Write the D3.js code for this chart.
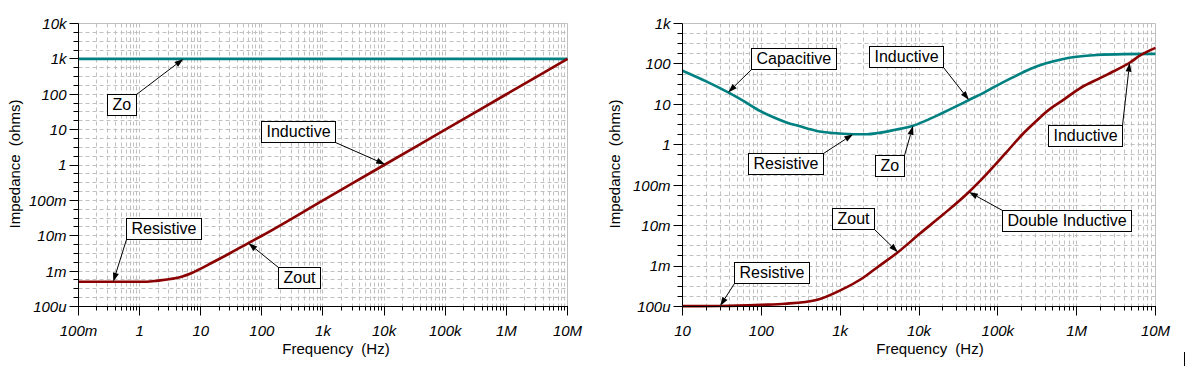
<!DOCTYPE html>
<html><head><meta charset="utf-8">
<script src="https://cdn.jsdelivr.net/npm/d3@7"></script>
<style>
body{margin:0;background:#fff}
svg{display:block}
text{font-family:"Liberation Sans",Arial,sans-serif;fill:#000}
</style>
</head><body>
<svg id="c" width="1186" height="366"></svg>
<script>
// ---------- DATA ----------
// Left chart
const leftXTickValues = [0.1, 1, 10, 100, 1e3, 1e4, 1e5, 1e6, 1e7];
const leftXTickLabels = ["100m", "1", "10", "100", "1k", "10k", "100k", "1M", "10M"];
const leftYTickValues = [1e-4, 1e-3, 1e-2, 0.1, 1, 10, 100, 1e3, 1e4];
const leftYTickLabels = ["100u", "1m", "10m", "100m", "1", "10", "100", "1k", "10k"];

const leftZoFreq = [0.1, 1, 10, 100, 1e3, 1e4, 1e5, 1e6, 1e7];
const leftZo     = [1000, 1000, 1000, 1000, 1000, 1000, 1000, 1000, 1000];

const leftZoutFreq = [0.1, 0.3, 1, 1.3, 2, 3, 5, 7, 10, 15, 20, 30, 60, 100, 1e3, 1e4, 1e5, 1e6, 1e7];
const leftZout     = [5e-4, 5e-4, 5e-4, 5e-4, 5.4e-4, 5.9e-4, 7.1e-4, 8.7e-4, 1.18e-3, 1.7e-3, 2.2e-3, 3.2e-3, 6.2e-3, 1e-2, 0.1, 1, 10, 100, 1000];

// Right chart
const rightXTickValues = [10, 100, 1e3, 1e4, 1e5, 1e6, 1e7];
const rightXTickLabels = ["10", "100", "1k", "10k", "100k", "1M", "10M"];
const rightYTickValues = [1e-4, 1e-3, 1e-2, 0.1, 1, 10, 100, 1e3];
const rightYTickLabels = ["100u", "1m", "10m", "100m", "1", "10", "100", "1k"];

const rightZoFreq = [10, 20, 38, 60, 96, 150, 209, 300, 502, 800, 1460, 2200, 3000, 5000, 8400, 12000, 18400, 30000, 43000, 65000, 97000, 150000, 257000, 400000, 677000, 1e6, 1.8e6, 4e6, 1e7];
const rightZo     = [68, 37, 19.7, 12, 6.9, 4.6, 3.56, 2.9, 2.2, 1.95, 1.83, 1.83, 1.95, 2.35, 2.94, 3.9, 5.7, 9, 12.8, 19, 29, 45, 75, 102, 133, 150, 167, 175, 177];

const rightZoutFreq = [10, 30, 100, 200, 500, 1000, 2000, 3000, 5400, 10200, 20000, 43000, 60000, 100000, 129000, 210000, 300000, 414000, 700000, 1.1e6, 2e6, 2.9e6, 4.8e6, 6.3e6, 1e7];
const rightZout     = [1.02e-4, 1.03e-4, 1.1e-4, 1.17e-4, 1.45e-4, 2.5e-4, 5.3e-4, 9.5e-4, 2.2e-3, 6.3e-3, 1.85e-2, 6.8e-2, 0.13, 0.38, 0.66, 1.9, 3.7, 6.6, 13.5, 25, 45, 65, 110, 160, 250];

// Annotations: label, series, frequency of the pointed point, box top-left in data coords, corner the leader starts from
const leftNotes = [
  {text: "Zo",        series: "zo",   at: 5.2,    box: [0.3, 100],    from: "tr"},
  {text: "Inductive", series: "zout", at: 1.04e4, box: [100, 17],     from: "br"},
  {text: "Resistive", series: "zout", at: 0.37,   box: [0.6, 0.031],  from: "bl"},
  {text: "Zout",      series: "zout", at: 60,     box: [190, 0.0013], from: "tl"}
];
const rightNotes = [
  {text: "Capacitive",       series: "zo",   at: 38,    box: [75, 235],      from: "bl"},
  {text: "Inductive",        series: "zo",   at: 43000, box: [2330, 273],    from: "br"},
  {text: "Resistive",        series: "zo",   at: 1460,  box: [68, 0.62],     from: "tr"},
  {text: "Zo",               series: "zo",   at: 8400,  box: [2770, 0.54],   from: "tr"},
  {text: "Inductive",        series: "zout", at: 4.7e6, box: [445000, 2.94], from: "tr"},
  {text: "Zout",             series: "zout", at: 5400,  box: [790, 0.0267],  from: "br"},
  {text: "Resistive",        series: "zout", at: 30,    box: [46, 0.00126],  from: "bl"},
  {text: "Double Inductive", series: "zout", at: 43000, box: [116000, 0.0232], from: "tl"}
];

// ---------- DRAW ----------
const svg = d3.select("#c");
svg.append("rect").attr("width", 1186).attr("height", 366).attr("fill", "#fff");

const TEAL = "#008080", RED = "#8b0000", GRID = "#c0c0c0";

function logInterp(fs, zs, f) {
  const lf = Math.log10(f);
  for (let i = 0; i < fs.length - 1; i++) {
    const a = Math.log10(fs[i]), b = Math.log10(fs[i + 1]);
    if (lf >= a && lf <= b) {
      const t = (lf - a) / (b - a);
      return Math.pow(10, Math.log10(zs[i]) + t * (Math.log10(zs[i + 1]) - Math.log10(zs[i])));
    }
  }
  return zs[zs.length - 1];
}

// x: standard 1..9 minor divisions per decade
function decadeVals(lo, hi) {
  const out = [];
  const e0 = Math.round(Math.log10(lo)), e1 = Math.round(Math.log10(hi));
  for (let e = e0; e < e1; e++) for (let m = 1; m < 10; m++) out.push({v: m * Math.pow(10, e), major: m === 1});
  out.push({v: hi, major: true});
  return out;
}
// y: each decade split into quarters
function quarterVals(lo, hi) {
  const out = [];
  const e0 = Math.round(Math.log10(lo)), e1 = Math.round(Math.log10(hi));
  for (let e = e0; e < e1; e++) for (let k = 0; k < 4; k++) out.push({v: Math.pow(10, e + k / 4), major: k === 0});
  out.push({v: hi, major: true});
  return out;
}

function drawPanel(p) {
  const g = svg.append("g");
  const x = d3.scaleLog().domain(p.xDomain).range(p.xRange);
  const y = d3.scaleLog().domain(p.yDomain).range(p.yRange);
  const X0 = p.xRange[0], X1 = p.xRange[1], Y0 = p.yRange[0], Y1 = p.yRange[1];
  const xv = decadeVals(p.xDomain[0], p.xDomain[1]);
  const yv = quarterVals(p.yDomain[0], p.yDomain[1]);
  const snap = v => Math.round(v - 0.5) + 0.5;

  // grid
  const grid = g.append("g").attr("stroke", GRID).attr("stroke-width", 1).attr("stroke-dasharray", "4,3").attr("fill", "none");
  xv.slice(1, -1).forEach(d => {
    const px = snap(x(d.v));
    grid.append("line").attr("x1", px).attr("x2", px).attr("y1", Y1).attr("y2", Y0);
  });
  yv.slice(1, -1).forEach(d => {
    const py = snap(y(d.v));
    grid.append("line").attr("x1", X0).attr("x2", X1).attr("y1", py).attr("y2", py);
  });
  // top and right border
  g.append("line").attr("x1", X0).attr("x2", X1).attr("y1", Y1).attr("y2", Y1).attr("stroke", GRID);
  g.append("line").attr("x1", X1).attr("x2", X1).attr("y1", Y1).attr("y2", Y0).attr("stroke", GRID);

  // curves
  const line = d3.line().x(d => x(d[0])).y(d => y(d[1])).curve(d3.curveMonotoneX);
  p.series.forEach(s => {
    g.append("path").datum(s.f.map((f, i) => [f, s.z[i]]))
      .attr("d", line).attr("fill", "none").attr("stroke", s.color)
      .attr("stroke-width", 2.6).attr("stroke-linejoin", "round");
  });

  // axes
  const ax = g.append("g").attr("stroke", "#000").attr("stroke-width", 1);
  ax.append("line").attr("x1", X0).attr("x2", X0).attr("y1", Y1).attr("y2", Y0);
  ax.append("line").attr("x1", X0).attr("x2", X1 + 0.5).attr("y1", Y0).attr("y2", Y0);
  yv.forEach(d => {
    const py = snap(y(d.v));
    ax.append("line").attr("x1", X0 - (d.major ? 9 : 5)).attr("x2", X0).attr("y1", py).attr("y2", py);
  });
  xv.forEach(d => {
    const px = snap(x(d.v));
    ax.append("line").attr("x1", px).attr("x2", px).attr("y1", Y0).attr("y2", Y0 + (d.major ? 9 : 4));
  });

  // tick labels
  p.yTicks.forEach((v, i) => {
    g.append("text").attr("x", X0 - 12).attr("y", y(v)).attr("dy", "0.36em")
      .attr("text-anchor", "end").attr("font-size", 15).attr("font-style", "italic")
      .text(p.yLabels[i]);
  });
  p.xTicks.forEach((v, i) => {
    g.append("text").attr("x", x(v)).attr("y", Y0 + 29)
      .attr("text-anchor", "middle").attr("font-size", 15).attr("font-style", "italic")
      .text(p.xLabels[i]);
  });

  // axis titles
  g.append("text").attr("x", p.xTitleX).attr("y", 354).attr("text-anchor", "middle")
    .attr("font-size", 15).attr("word-spacing", 4).text("Frequency (Hz)");
  g.append("text").attr("transform", `translate(${p.yTitleX},164) rotate(-90)`).attr("text-anchor", "middle")
    .attr("font-size", 15).attr("word-spacing", 4).text("Impedance (ohms)");

  // annotations
  p.notes.forEach(n => {
    const s = p.series.find(q => q.key === n.series);
    const tx = x(n.at), ty = y(logInterp(s.f, s.z, n.at));
    const bx = snap(x(n.box[0])), by = snap(y(n.box[1]));
    const ng = g.append("g");
    const rect = ng.append("rect").attr("fill", "#fff").attr("stroke", "#000").attr("stroke-width", 1);
    const t = ng.append("text").attr("x", bx + 5).attr("y", by + 15.5).attr("font-size", 16).text(n.text);
    const w = Math.round(t.node().getComputedTextLength() + 10);
    const h = 21;
    rect.attr("x", bx).attr("y", by).attr("width", w).attr("height", h);
    const sx = n.from[1] === "r" ? bx + w : bx;
    const sy = n.from[0] === "b" ? by + h : by;
    const ang = Math.atan2(ty - sy, tx - sx);
    const L = 9, W = 3;
    const bxp = tx - L * Math.cos(ang), byp = ty - L * Math.sin(ang);
    g.insert("line", () => ng.node()).attr("x1", sx).attr("y1", sy).attr("x2", bxp).attr("y2", byp)
      .attr("stroke", "#000").attr("stroke-width", 1);
    g.append("path").attr("fill", "#000").attr("d",
      `M${tx},${ty}L${bxp - W * Math.sin(ang)},${byp + W * Math.cos(ang)}L${bxp + W * Math.sin(ang)},${byp - W * Math.cos(ang)}Z`);
  });
}

drawPanel({
  xDomain: [0.1, 1e7], xRange: [78.5, 567.5],
  yDomain: [1e-4, 1e4], yRange: [306.5, 23.5],
  xTicks: leftXTickValues, xLabels: leftXTickLabels,
  yTicks: leftYTickValues, yLabels: leftYTickLabels,
  series: [
    {key: "zo", f: leftZoFreq, z: leftZo, color: TEAL},
    {key: "zout", f: leftZoutFreq, z: leftZout, color: RED}
  ],
  notes: leftNotes, xTitleX: 336, yTitleX: 20
});

drawPanel({
  xDomain: [10, 1e7], xRange: [682.5, 1155.5],
  yDomain: [1e-4, 1e3], yRange: [306.5, 23.5],
  xTicks: rightXTickValues, xLabels: rightXTickLabels,
  yTicks: rightYTickValues, yLabels: rightYTickLabels,
  series: [
    {key: "zo", f: rightZoFreq, z: rightZo, color: TEAL},
    {key: "zout", f: rightZoutFreq, z: rightZout, color: RED}
  ],
  notes: rightNotes, xTitleX: 930, yTitleX: 620
});

// small stray mark at lower right
svg.append("line").attr("x1", 1184.5).attr("x2", 1184.5).attr("y1", 352).attr("y2", 366).attr("stroke", "#000");
</script>
</body></html>
